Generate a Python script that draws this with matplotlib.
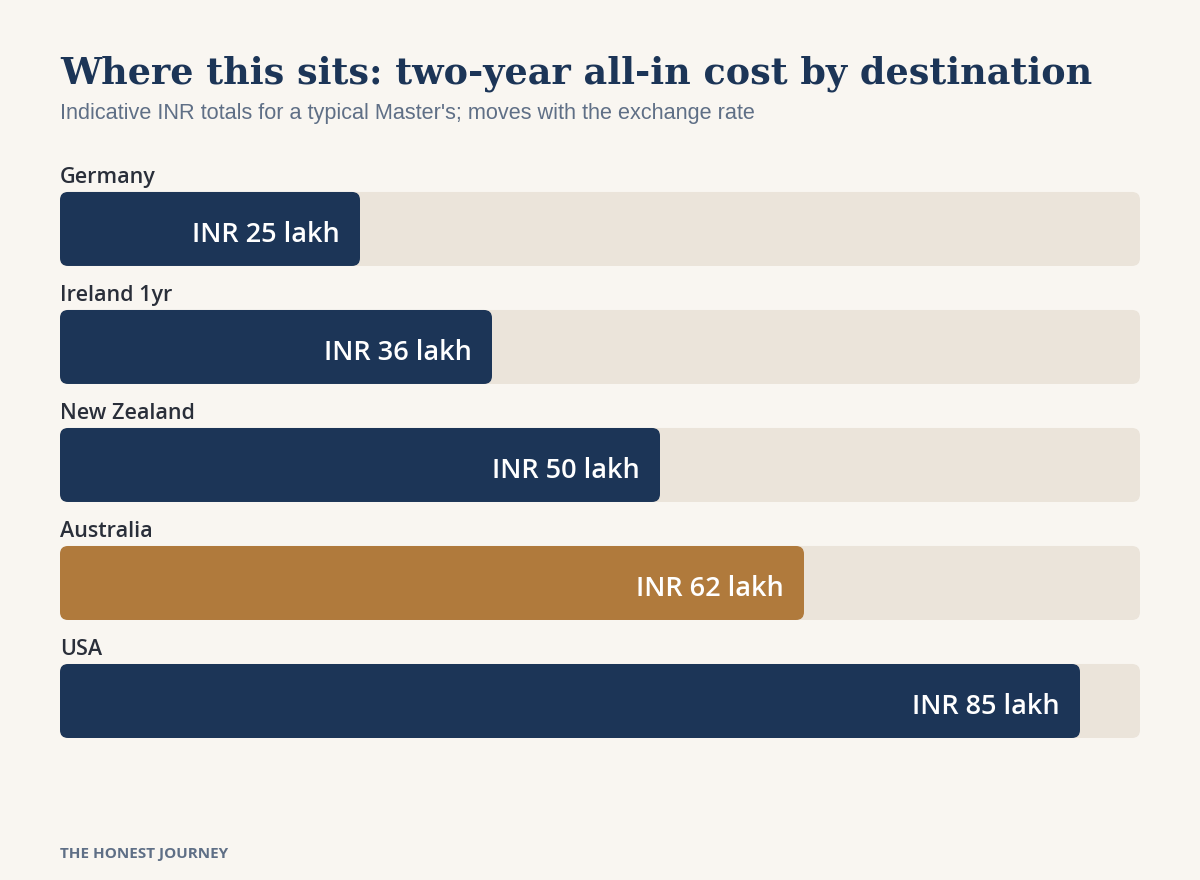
import matplotlib.pyplot as plt
from matplotlib.patches import FancyBboxPatch

countries = ["Germany", "Ireland 1yr", "New Zealand", "Australia", "USA"]
cost_lakh = [25, 36, 50, 62, 85]
highlight = "Australia"
scale_max = 90

BG = "#f9f6f1"
NAVY = "#1c3557"
GOLD = "#b07a3c"
TRACK = "#ebe4da"

fig = plt.figure(figsize=(12, 8.8), dpi=100, facecolor=BG)
ax = fig.add_axes([0.05, 0.13636, 0.9, 0.6705])
ax.set_facecolor(BG)
ax.set_xlim(0, scale_max)
ax.set_ylim(len(countries) - 0.5, -0.5)
ax.axis("off")

# pixel-ish conversions so the corner rounding stays round
px_x = scale_max / 1080
px_y = len(countries) / 590
bar_h = 74 * px_y
rad = 8 * px_x
aspect = px_y / px_x

for i, (name, val) in enumerate(zip(countries, cost_lakh)):
    top = i - bar_h / 2
    track = FancyBboxPatch((0, top), scale_max, bar_h,
                           boxstyle=f"round,pad=0,rounding_size={rad}",
                           mutation_aspect=aspect, fc=TRACK, ec="none")
    ax.add_patch(track)
    col = GOLD if name == highlight else NAVY
    bar = FancyBboxPatch((0, top), val, bar_h,
                         boxstyle=f"round,pad=0,rounding_size={rad}",
                         mutation_aspect=aspect, fc=col, ec="none")
    ax.add_patch(bar)
    ax.text(0, top - 9 * px_y, name, ha="left", va="baseline",
            fontsize=15.5, fontweight="semibold", family="Open Sans", color="#2a2f3a")
    ax.text(val - 20 * px_x, i + 6 * px_y, f"INR {val} lakh", ha="right", va="center",
            fontsize=19.5, fontweight="semibold", family="Open Sans", color="white")

fig.text(60 / 1200, 1 - 83 / 880, "Where this sits: two-year all-in cost by destination",
         ha="left", va="baseline", fontsize=26.3, fontweight="bold",
         family="DejaVu Serif", color=NAVY)
fig.text(60 / 1200, 1 - 119 / 880,
         "Indicative INR totals for a typical Master's; moves with the exchange rate",
         ha="left", va="baseline", fontsize=15.6, family="Liberation Sans", color="#5f6f86")
fig.text(60 / 1200, 1 - 858 / 880, "THE HONEST JOURNEY", ha="left", va="baseline",
         fontsize=11, fontweight="bold", family="Open Sans", color="#5f6f86")

fig.savefig("out.png", dpi=100, facecolor=BG)
